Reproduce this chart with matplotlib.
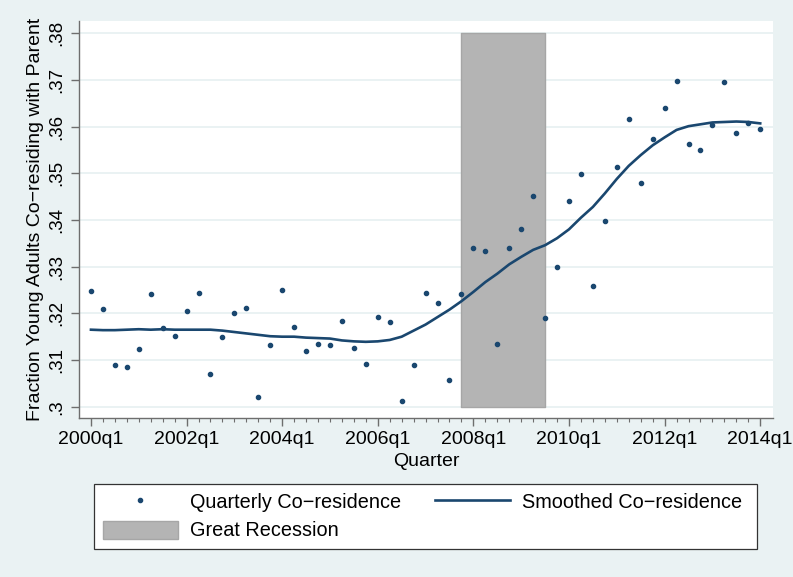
import matplotlib
matplotlib.use("Agg")
import matplotlib.pyplot as plt
import numpy as np
from matplotlib.patches import Patch, Rectangle
from matplotlib.lines import Line2D

plt.rcParams['font.family'] = ['Liberation Sans', 'DejaVu Sans']

# Quarterly co-residence, 2000q1 .. 2014q1 (57 quarters)
quarterly = [0.3248, 0.3209, 0.3089, 0.3085, 0.3124, 0.3241, 0.3168, 0.3152,
             0.3206, 0.3244, 0.3071, 0.3150, 0.3201, 0.3211, 0.3021, 0.3132,
             0.3249, 0.3171, 0.3120, 0.3134, 0.3133, 0.3184, 0.3126, 0.3091,
             0.3193, 0.3181, 0.3013, 0.3090, 0.3244, 0.3223, 0.3058, 0.3241,
             0.3340, 0.3334, 0.3135, 0.3341, 0.3380, 0.3451, 0.3189, 0.3299,
             0.3441, 0.3499, 0.3258, 0.3397, 0.3514, 0.3616, 0.3479, 0.3574,
             0.3640, 0.3698, 0.3563, 0.3550, 0.3603, 0.3695, 0.3586, 0.3608,
             0.3594]

smoothed = [0.3165, 0.3164, 0.3164, 0.3165, 0.3166, 0.3165, 0.3166, 0.3165,
            0.3165, 0.3165, 0.3165, 0.3163, 0.3160, 0.3157, 0.3154, 0.3151,
            0.3150, 0.3150, 0.3148, 0.3147, 0.3146, 0.3142, 0.3140, 0.3139,
            0.3140, 0.3143, 0.3150, 0.3163, 0.3176, 0.3192, 0.3208, 0.3226,
            0.3246, 0.3267, 0.3285, 0.3305, 0.3321, 0.3336, 0.3346, 0.3361,
            0.3380, 0.3405, 0.3428, 0.3457, 0.3488, 0.3516, 0.3539, 0.3560,
            0.3577, 0.3593, 0.3601, 0.3605, 0.3609, 0.3610, 0.3611, 0.3610,
            0.3607]

# Great Recession shading: 2007q4 .. 2009q3 (quarter index), y-range .30 .. .38
recession_start = 31
recession_end = 38
recession_low = 0.30
recession_high = 0.38

xtick_labels = ["2000q1", "2002q1", "2004q1", "2006q1", "2008q1",
                "2010q1", "2012q1", "2014q1"]
ytick_values = [0.30, 0.31, 0.32, 0.33, 0.34, 0.35, 0.36, 0.37, 0.38]
ytick_labels = [".3", ".31", ".32", ".33", ".34", ".35", ".36", ".37", ".38"]

navy = '#1A476F'
bg = '#EAF2F3'

fig = plt.figure(figsize=(7.93, 5.77), dpi=100, facecolor=bg)
W, H = 793, 577
ax = fig.add_axes([79 / W, 1 - 418 / H, (773 - 79) / W, (418 - 20.7) / H])
ax.set_facecolor('white')

x = np.arange(len(quarterly))

ax.set_axisbelow(True)
ax.yaxis.grid(True, color=bg, linewidth=1.4)
ax.xaxis.grid(False)

ax.fill_between([recession_start, recession_end], recession_low, recession_high,
                facecolor='#B4B4B4', edgecolor='#A6A6A6', linewidth=1, zorder=2)
ax.plot(x, quarterly, linestyle='none', marker='o', markersize=3.0,
        color=navy, zorder=3)
ax.plot(x, smoothed, color=navy, linewidth=1.9, zorder=4)

ax.set_xlim(-1.0, 57.07)
ax.set_ylim(0.29758, 0.3827)

ax.set_xticks(np.arange(0, len(quarterly), 8))
ax.set_xticklabels(xtick_labels)
ax.set_xticks(x, minor=True)
ax.set_yticks(ytick_values)
ax.set_yticklabels(ytick_labels, rotation=90, va='center')

for s in ['top', 'right']:
    ax.spines[s].set_visible(False)
for s in ['left', 'bottom']:
    ax.spines[s].set_color('#6E6E6E')
    ax.spines[s].set_linewidth(1.0)

ax.tick_params(axis='x', which='major', length=5.5, width=1, color='#6E6E6E',
               labelsize=14, pad=3.5)
ax.tick_params(axis='x', which='minor', length=3, width=0.8, color='#6E6E6E')
ax.tick_params(axis='y', which='major', length=6, width=1, color='#6E6E6E',
               labelsize=13.5, pad=4)

ax.set_xlabel("Quarter", fontsize=14, labelpad=4)
ax.set_ylabel("Fraction Young Adults Co\u2212residing with Parent", fontsize=14,
              labelpad=3)

# legend frame (drawn separately so the box width matches the reference)
fig.patches.append(Rectangle((94.3 / W, 1 - 549 / H), (756.7 - 94.3) / W, 65 / H,
                             transform=fig.transFigure, facecolor='white',
                             edgecolor='#333333', linewidth=0.9, zorder=1))

h_pts = Line2D([], [], linestyle='none', marker='o', markersize=3.0, color=navy)
h_line = Line2D([], [], color=navy, linewidth=1.9)
h_rec = Patch(facecolor='#B4B4B4', edgecolor='#A6A6A6')

leg = fig.legend([h_pts, h_rec, h_line],
                 ["Quarterly Co\u2212residence", "Great Recession",
                  "Smoothed Co\u2212residence"],
                 ncol=2, mode='expand', loc='center',
                 bbox_to_anchor=(94.3 / W, 1 - 549 / H, (750.5 - 94.3) / W, 65 / H),
                 borderaxespad=0, fontsize=14.3, frameon=False,
                 handlelength=3.8, handleheight=1.0, handletextpad=0.6,
                 borderpad=0.42, labelspacing=0.43, columnspacing=1.7,
                 numpoints=1)
leg.set_zorder(5)

fig.savefig("out.png", dpi=100, facecolor=bg)
